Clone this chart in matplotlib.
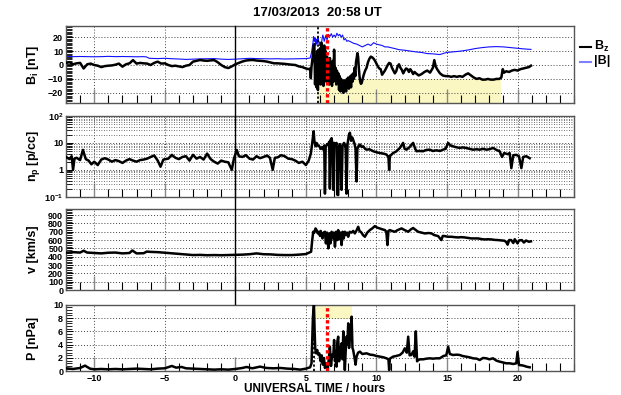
import matplotlib
matplotlib.use('Agg')
import matplotlib.pyplot as plt
import matplotlib.transforms as mtransforms
from matplotlib.lines import Line2D
from matplotlib.ticker import MultipleLocator, FixedLocator, FixedFormatter, LogLocator, NullFormatter

plt.rcParams['font.family'] = 'Liberation Sans'
plt.rcParams['font.weight'] = 'bold'
plt.rcParams['mathtext.fontset'] = 'custom'
plt.rcParams['mathtext.rm'] = 'Liberation Sans:bold'
plt.rcParams['mathtext.bf'] = 'Liberation Sans:bold'
plt.rcParams['mathtext.it'] = 'Liberation Sans:bold'

# --- IMF Bz [nT] (time in hours UT, value) ---
bz = [(-12.0, 1.5), (-11.75, 2.0), (-11.5, 0.5), (-11.25, 1.2), (-11.0, 1.5), (-10.75, -2.5),
      (-10.5, 0.5), (-10.25, 1.0), (-10.0, 0.0), (-9.75, -0.5), (-9.5, -1.5), (-9.25, -0.8),
      (-9.0, -0.5), (-8.75, -0.3), (-8.5, 0.2), (-8.25, 1.0), (-8.0, -1.2), (-7.75, 0.5),
      (-7.5, 1.2), (-7.25, 3.5), (-7.0, 1.0), (-6.75, 1.5), (-6.5, 1.2), (-6.25, 1.0),
      (-6.0, 0.0), (-5.75, 1.5), (-5.5, 2.4), (-5.25, 1.0), (-5.0, 1.2), (-4.75, 0.0),
      (-4.5, -0.8), (-4.25, -0.5), (-4.0, -1.0), (-3.75, -1.5), (-3.5, -0.5), (-3.25, 0.0),
      (-3.0, 2.4), (-2.75, 3.0), (-2.5, 3.6), (-2.25, 3.2), (-2.0, 3.0), (-1.75, 3.3),
      (-1.5, 3.5), (-1.25, 2.0), (-1.0, 0.0), (-0.75, -1.5), (-0.5, -2.2), (-0.25, -1.0),
      (0.0, 0.5), (0.25, 1.5), (0.5, 2.5), (0.75, 3.2), (1.0, 3.5), (1.25, 3.6), (1.5, 3.2),
      (1.75, 3.0), (2.0, 2.8), (2.25, 2.4), (2.5, 1.8), (2.75, 1.2), (3.0, 1.2), (3.25, 1.0),
      (3.5, 0.8), (3.75, 0.5), (4.0, 0.2), (4.25, 0.0), (4.5, -1.0), (4.75, -1.5), (5.0, -2.5),
      (5.2, -3.0), (5.3, -2.5), (5.35, -9.5), (5.4, -1.0), (5.45, 3.0), (5.5, 8.0), (5.55, 14.0),
      (5.6, 15.0), (5.65, -14.0), (5.7, 6.0), (5.75, -16.0), (5.8, 10.0), (5.85, -18.0),
      (5.9, 4.0), (5.95, -12.0), (6.0, 12.0), (6.05, -14.0), (6.1, 16.0), (6.15, -10.0),
      (6.2, 8.0), (6.25, -15.0), (6.3, 14.0), (6.35, -6.0), (6.4, 10.0), (6.45, -12.0),
      (6.5, 6.0), (6.55, -8.0), (6.6, 2.0), (6.65, -14.0), (6.7, 5.0), (6.75, -10.0),
      (6.8, 0.0), (6.85, -15.0), (6.9, 3.0), (6.95, -12.0), (7.0, 11.0), (7.05, -8.0),
      (7.1, -2.0), (7.15, -14.0), (7.2, -4.0), (7.25, -12.0), (7.3, -6.0), (7.35, -18.0),
      (7.4, -8.0), (7.45, -19.0), (7.5, -10.0), (7.55, -17.0), (7.6, -12.0), (7.65, -20.0),
      (7.7, -11.0), (7.75, -18.0), (7.8, -14.0), (7.85, -19.0), (7.9, -10.0), (7.95, -15.0),
      (8.0, -9.0), (8.05, -17.0), (8.1, -12.0), (8.15, -8.0), (8.2, -16.0), (8.25, -7.0),
      (8.3, -12.0), (8.35, -6.0), (8.4, -10.0), (8.45, -2.0), (8.5, -8.0), (8.55, 2.0),
      (8.6, 5.0), (8.65, 8.5), (8.7, 6.0), (8.75, -2.0), (8.8, -8.0), (8.85, -12.0),
      (8.9, -13.5), (8.95, -13.0), (9.0, -11.0), (9.1, -7.0), (9.2, -4.0), (9.3, -2.0),
      (9.4, 2.0), (9.5, 4.5), (9.6, 6.0), (9.7, 5.5), (9.8, 4.5), (9.9, 3.0), (10.0, 1.0),
      (10.1, -1.0), (10.2, -2.5), (10.3, -3.0), (10.4, -7.0), (10.5, -5.5), (10.6, -4.0),
      (10.7, -2.0), (10.8, 0.0), (10.9, 1.5), (11.0, 1.0), (11.1, -2.0), (11.2, -4.0),
      (11.3, -6.0), (11.4, -4.5), (11.5, -1.0), (11.6, 0.5), (11.7, -2.0), (11.8, -3.5),
      (11.9, -6.0), (12.0, -4.0), (12.1, -2.5), (12.2, -3.0), (12.3, -5.0), (12.4, -3.0),
      (12.5, -4.5), (12.6, -6.5), (12.7, -5.0), (12.8, -6.0), (13.0, -7.5), (13.2, -6.5),
      (13.4, -5.0), (13.6, -4.0), (13.8, -5.5), (14.0, -2.0), (14.1, 3.5), (14.2, -1.0),
      (14.3, -3.0), (14.5, -6.0), (14.7, -7.5), (14.9, -8.0), (15.1, -8.0), (15.3, -8.5),
      (15.5, -8.0), (15.7, -8.5), (15.9, -8.0), (16.1, -8.5), (16.3, -7.0), (16.5, -6.0),
      (16.7, -7.5), (16.9, -9.0), (17.1, -10.0), (17.3, -9.5), (17.5, -10.5), (17.7, -10.5),
      (17.9, -10.0), (18.1, -10.5), (18.3, -10.5), (18.5, -10.0), (18.7, -10.0), (18.85, -9.0),
      (18.95, -3.0), (19.05, -5.5), (19.2, -4.5), (19.4, -5.0), (19.6, -4.0), (19.8, -3.5),
      (20.0, -4.0), (20.2, -3.0), (20.4, -2.5), (20.6, -2.0), (20.8, -1.5), (20.95, -0.5)]

# --- |B| [nT] ---
btot = [(-12.0, 6.2), (-11.5, 6.0), (-11.0, 6.1), (-10.5, 6.0), (-10.0, 5.9), (-9.5, 6.0),
        (-9.0, 6.2), (-8.5, 6.0), (-8.0, 6.1), (-7.5, 6.0), (-7.0, 5.9), (-6.5, 6.0),
        (-6.3, 5.8), (-6.1, 4.8), (-5.5, 4.6), (-5.0, 4.8), (-4.5, 4.5), (-4.0, 4.3),
        (-3.5, 4.0), (-3.0, 4.2), (-2.5, 4.4), (-2.0, 4.5), (-1.5, 4.6), (-1.0, 4.2),
        (-0.5, 4.0), (0.0, 4.2), (0.5, 4.5), (1.0, 4.8), (1.5, 4.6), (2.0, 4.5), (2.5, 4.4),
        (3.0, 4.5), (3.5, 4.3), (4.0, 4.4), (4.5, 4.5), (5.0, 4.6), (5.3, 5.0), (5.4, 9.0),
        (5.5, 16.0), (5.55, 20.5), (5.6, 17.0), (5.65, 19.5), (5.7, 14.0), (5.75, 18.5),
        (5.8, 15.0), (5.85, 20.0), (5.9, 17.5), (5.95, 14.0), (6.0, 16.5), (6.05, 12.5),
        (6.1, 15.0), (6.15, 19.0), (6.2, 21.5), (6.25, 19.5), (6.3, 17.0), (6.4, 21.0),
        (6.5, 18.0), (6.6, 22.0), (6.7, 20.5), (6.8, 22.5), (6.9, 20.0), (7.0, 21.5),
        (7.1, 20.0), (7.2, 22.8), (7.3, 21.0), (7.4, 22.0), (7.5, 20.0), (7.6, 21.5),
        (7.7, 18.0), (7.8, 19.0), (7.9, 17.0), (8.0, 17.5), (8.2, 16.5), (8.4, 15.5),
        (8.6, 15.0), (8.8, 14.0), (9.0, 13.0), (9.2, 14.0), (9.4, 15.0), (9.6, 14.0),
        (9.8, 16.0), (10.0, 15.0), (10.2, 14.5), (10.4, 14.0), (10.6, 13.0), (10.8, 13.0),
        (11.0, 12.5), (11.3, 11.8), (11.6, 11.0), (12.0, 10.6), (12.4, 10.0), (12.8, 9.4),
        (13.2, 9.0), (13.6, 8.2), (14.0, 8.0), (14.5, 7.5), (14.8, 8.5), (15.0, 9.0),
        (15.5, 9.5), (16.0, 10.0), (16.5, 10.8), (17.0, 11.8), (17.5, 12.5), (18.0, 13.0),
        (18.5, 13.2), (19.0, 13.0), (19.5, 12.5), (20.0, 12.0), (20.5, 11.5), (20.95, 11.2)]

# --- proton density [p/cc] ---
np_dens = [(-12.0, 3.0), (-11.75, 2.5), (-11.6, 3.2), (-11.5, 1.0), (-11.4, 2.6), (-11.25, 2.8),
           (-11.0, 2.3), (-10.8, 5.5), (-10.6, 2.5), (-10.4, 2.2), (-10.2, 1.6), (-10.0, 2.0),
           (-9.75, 1.5), (-9.5, 2.4), (-9.25, 2.7), (-9.0, 2.4), (-8.75, 2.0), (-8.5, 2.3),
           (-8.25, 2.1), (-8.0, 1.8), (-7.75, 2.2), (-7.5, 2.5), (-7.25, 2.2), (-7.0, 2.0),
           (-6.75, 2.3), (-6.5, 2.4), (-6.25, 2.6), (-6.0, 3.0), (-5.75, 3.4), (-5.5, 2.2),
           (-5.3, 1.3), (-5.1, 2.4), (-4.75, 2.6), (-4.5, 3.6), (-4.25, 2.8), (-4.0, 2.5),
           (-3.75, 3.0), (-3.5, 3.2), (-3.25, 2.2), (-3.0, 3.6), (-2.75, 2.6), (-2.5, 3.0),
           (-2.25, 2.4), (-2.0, 4.0), (-1.75, 2.5), (-1.5, 2.0), (-1.25, 1.7), (-1.0, 2.2),
           (-0.75, 2.0), (-0.5, 1.9), (-0.25, 1.0), (-0.1, 2.6), (0.1, 5.5), (0.25, 3.2),
           (0.5, 3.0), (0.75, 3.5), (1.0, 2.6), (1.25, 2.4), (1.5, 3.2), (1.75, 2.7), (2.0, 3.0),
           (2.25, 3.4), (2.45, 2.8), (2.65, 1.0), (2.8, 2.8), (3.0, 2.9), (3.25, 3.5), (3.5, 3.2),
           (3.75, 2.6), (4.0, 2.5), (4.25, 2.2), (4.5, 1.8), (4.75, 2.0), (5.0, 1.5), (5.2, 2.2),
           (5.35, 4.0), (5.45, 10.0), (5.55, 27.0), (5.6, 12.0), (5.65, 9.0), (5.7, 7.5),
           (5.76, 10.0), (5.85, 8.0), (5.95, 7.5), (6.05, 6.0), (6.15, 7.0), (6.25, 5.5),
           (6.3, 8.0), (6.35, 0.13), (6.4, 7.0), (6.5, 9.0), (6.59, 8.5), (6.65, 11.0),
           (6.7, 0.2), (6.75, 13.0), (6.82, 15.0), (6.88, 9.0), (6.94, 0.18), (7.0, 10.0),
           (7.1, 8.0), (7.17, 10.0), (7.22, 0.12), (7.29, 0.115), (7.35, 7.5), (7.41, 9.0),
           (7.47, 5.0), (7.53, 0.18), (7.6, 8.0), (7.7, 10.0), (7.76, 9.0), (7.82, 6.0),
           (7.88, 0.13), (7.95, 9.0), (8.05, 20.0), (8.12, 24.0), (8.2, 12.0), (8.28, 16.0),
           (8.35, 13.0), (8.45, 9.0), (8.52, 6.0), (8.59, 0.37), (8.65, 6.0), (8.75, 8.0),
           (8.83, 8.7), (8.95, 7.0), (9.06, 7.5), (9.2, 6.0), (9.3, 5.6), (9.5, 5.8), (9.77, 4.9),
           (10.0, 4.5), (10.24, 4.2), (10.5, 4.0), (10.71, 3.7), (10.85, 3.0), (10.9, 1.0),
           (10.95, 3.2), (11.18, 4.2), (11.4, 4.8), (11.66, 6.5), (11.89, 10.0), (12.0, 6.0),
           (12.13, 5.6), (12.35, 7.0), (12.6, 10.0), (12.75, 6.0), (12.84, 4.9), (13.0, 5.0),
           (13.31, 4.9), (13.55, 5.5), (13.78, 5.6), (14.0, 5.0), (14.25, 5.3), (14.5, 5.0),
           (14.72, 5.6), (14.9, 6.0), (15.08, 10.0), (15.25, 8.0), (15.43, 7.5), (15.6, 7.0),
           (15.9, 6.5), (16.1, 6.8), (16.37, 6.5), (16.6, 6.0), (16.84, 5.6), (17.1, 5.8),
           (17.32, 5.6), (17.55, 6.0), (17.79, 5.6), (18.0, 5.8), (18.26, 6.5), (18.5, 5.5),
           (18.73, 4.9), (18.9, 3.0), (19.05, 4.2), (19.3, 3.8), (19.44, 4.2), (19.56, 1.15),
           (19.7, 3.5), (19.91, 3.6), (20.1, 3.2), (20.27, 1.15), (20.4, 3.0), (20.62, 3.2),
           (20.86, 2.7)]

# --- solar wind speed [km/s] ---
vsw = [(-12.0, 448), (-11.5, 455), (-11.0, 450), (-10.75, 472), (-10.5, 450), (-10.0, 445),
       (-9.5, 440), (-9.0, 448), (-8.5, 450), (-8.0, 440), (-7.5, 445), (-7.3, 475), (-7.0, 440),
       (-6.5, 442), (-6.27, 462), (-6.0, 458), (-5.5, 455), (-5.0, 448), (-4.5, 440),
       (-4.0, 435), (-3.5, 428), (-3.0, 420), (-2.5, 422), (-2.0, 418), (-1.5, 420),
       (-1.0, 418), (-0.5, 420), (0.0, 422), (0.5, 425), (1.0, 430), (1.5, 440), (2.0, 430),
       (2.5, 428), (3.0, 422), (3.5, 420), (4.0, 420), (4.5, 425), (5.0, 432), (5.37, 460),
       (5.45, 600), (5.52, 700), (5.6, 690), (5.68, 740), (5.76, 720), (5.84, 680), (5.92, 700),
       (6.0, 650), (6.05, 710), (6.11, 660), (6.18, 620), (6.25, 690), (6.35, 700), (6.42, 560),
       (6.5, 690), (6.59, 500), (6.66, 680), (6.74, 560), (6.82, 700), (6.9, 620), (6.98, 690),
       (7.06, 520), (7.14, 700), (7.22, 600), (7.29, 720), (7.37, 610), (7.45, 690), (7.53, 540),
       (7.6, 700), (7.68, 620), (7.76, 700), (7.85, 660), (7.92, 690), (8.0, 640), (8.1, 700),
       (8.24, 690), (8.35, 710), (8.47, 680), (8.6, 720), (8.71, 760), (8.8, 710), (8.94, 690),
       (9.05, 660), (9.18, 640), (9.35, 690), (9.53, 720), (9.7, 740), (9.89, 768), (10.05, 750),
       (10.24, 740), (10.4, 730), (10.6, 720), (10.7, 700), (10.78, 540), (10.85, 710),
       (10.95, 720), (11.1, 710), (11.3, 700), (11.5, 720), (11.78, 740), (12.0, 720),
       (12.25, 700), (12.45, 730), (12.6, 745), (12.8, 720), (12.95, 700), (13.2, 690),
       (13.43, 680), (13.7, 685), (13.9, 680), (14.1, 660), (14.37, 648), (14.6, 600),
       (14.7, 650), (14.84, 648), (15.05, 640), (15.3, 640), (15.55, 635), (15.78, 632),
       (16.0, 635), (16.25, 632), (16.5, 625), (16.72, 620), (17.0, 620), (17.2, 620),
       (17.45, 612), (17.67, 608), (17.9, 610), (18.14, 608), (18.4, 602), (18.61, 600),
       (18.85, 596), (19.08, 592), (19.2, 575), (19.3, 545), (19.4, 600), (19.55, 600),
       (19.7, 565), (19.8, 610), (20.0, 560), (20.1, 595), (20.3, 600), (20.45, 570),
       (20.6, 595), (20.8, 580), (20.95, 585)]

# --- dynamic pressure [nPa] ---
pdyn = [(-12.0, 0.45), (-11.5, 0.35), (-11.0, 0.5), (-10.65, 0.85), (-10.3, 0.4), (-10.0, 0.3),
        (-9.5, 0.35), (-9.0, 0.3), (-8.5, 0.35), (-8.0, 0.3), (-7.5, 0.35), (-7.0, 0.4),
        (-6.5, 0.35), (-6.0, 0.3), (-5.5, 0.4), (-5.0, 0.45), (-4.5, 0.8), (-4.2, 0.55),
        (-3.8, 0.65), (-3.5, 0.45), (-3.0, 0.4), (-2.5, 0.35), (-2.0, 0.3), (-1.5, 0.25),
        (-1.0, 0.3), (-0.5, 0.25), (0.0, 0.35), (0.5, 0.5), (0.8, 0.65), (1.2, 0.45),
        (1.75, 0.7), (2.2, 0.5), (2.7, 0.45), (3.2, 0.5), (3.7, 0.4), (4.2, 0.35), (4.6, 0.25),
        (5.0, 0.4), (5.3, 0.6), (5.4, 1.2), (5.5, 8.2), (5.57, 10.0), (5.62, 6.0), (5.66, 3.5),
        (5.72, 2.7), (5.8, 3.2), (5.87, 2.5), (5.95, 2.7), (6.05, 1.5), (6.12, 2.4), (6.2, 1.0),
        (6.28, 2.0), (6.35, 0.5), (6.45, 1.2), (6.55, 0.3), (6.62, 1.8), (6.7, 3.7), (6.78, 0.8),
        (6.86, 2.5), (6.94, 2.2), (7.0, 4.7), (7.06, 1.5), (7.12, 3.0), (7.17, 0.7), (7.23, 4.5),
        (7.29, 5.2), (7.35, 1.5), (7.41, 2.2), (7.47, 3.5), (7.53, 4.2), (7.6, 1.8), (7.65, 6.0),
        (7.7, 3.5), (7.76, 0.2), (7.82, 3.0), (7.88, 5.2), (7.94, 4.0), (8.0, 7.2), (8.06, 3.5),
        (8.12, 5.2), (8.18, 6.0), (8.24, 8.2), (8.3, 3.5), (8.35, 3.2), (8.45, 2.0), (8.52, 1.0),
        (8.59, 2.2), (8.7, 2.8), (8.83, 2.95), (9.0, 2.6), (9.3, 2.7), (9.55, 2.5), (9.77, 2.45),
        (10.0, 2.3), (10.24, 2.2), (10.5, 2.1), (10.71, 1.95), (10.85, 1.8), (10.9, 0.2),
        (10.95, 1.9), (11.18, 2.2), (11.4, 2.3), (11.66, 2.45), (11.85, 2.8), (12.01, 3.45),
        (12.15, 2.8), (12.25, 5.2), (12.35, 2.4), (12.48, 2.45), (12.6, 3.0), (12.7, 2.2),
        (12.79, 6.0), (12.88, 1.5), (12.96, 1.7), (13.1, 1.8), (13.31, 1.8), (13.55, 1.9),
        (13.78, 1.95), (14.0, 1.9), (14.25, 1.95), (14.49, 1.95), (14.75, 2.3), (14.95, 2.4),
        (15.08, 3.7), (15.2, 2.6), (15.43, 2.45), (15.7, 2.5), (15.9, 2.45), (16.1, 2.3),
        (16.37, 2.2), (16.6, 2.1), (16.84, 1.95), (17.1, 1.9), (17.32, 1.7), (17.55, 2.0),
        (17.79, 1.95), (18.0, 1.8), (18.26, 1.95), (18.5, 1.6), (18.73, 1.45), (19.0, 1.3),
        (19.2, 1.2), (19.44, 1.2), (19.7, 1.1), (19.91, 1.2), (20.0, 2.9), (20.1, 0.95),
        (20.3, 0.9), (20.5, 0.8), (20.62, 0.7), (20.86, 0.6)]

# event markers and highlighted intervals (hours UT)
shock_b, shock_p = 5.85, 5.6
arrival = 6.5
bz_band = (5.85, 18.8, -10.0)      # start, end, upper edge
p_band = (5.64, 8.24, 7.8)         # start, end, lower edge

W, H = 621, 395
fig = plt.figure(figsize=(W / 100, H / 100), dpi=100)

left, right = 66, 574
panels_px = [(26, 103.3), (116, 196.7), (209.3, 290), (304.7, 371.3)]
axes = []
for top, bot in panels_px:
    ax = fig.add_axes([left / W, 1 - bot / H, (right - left) / W, (bot - top) / H])
    axes.append(ax)
ax1, ax2, ax3, ax4 = axes

grid_kw = dict(color='#444444', linestyle=(0, (1, 2)), linewidth=0.7, zorder=0)
line_kw = dict(color='black', linewidth=1.8, zorder=3)
yellow = '#fbf7c2'

for ax in axes:
    ax.set_xlim(-12, 24)
    ax.xaxis.set_major_locator(MultipleLocator(5))
    ax.xaxis.set_minor_locator(MultipleLocator(1))
    ax.tick_params(axis='x', which='major', direction='in', length=10, width=1.0,
                   color='#888888', top=False, labelsize=6.5, pad=2)
    ax.tick_params(axis='x', which='minor', direction='in', length=5.5, width=0.8,
                   color='black', top=False)
    ax.tick_params(axis='y', which='major', direction='in', length=5, width=0.7,
                   right=False, labelsize=6.5, pad=2)
    ax.tick_params(axis='y', which='minor', direction='in', length=4, width=0.6, right=False)
    for sp in ax.spines.values():
        sp.set_color('#555555')
        sp.set_linewidth(1.0)
    for g in (-10, -5, 5, 10, 15, 20):
        ax.axvline(g, **grid_kw)
    ax.grid(axis='y', which='major', **{k: v for k, v in grid_kw.items() if k != 'zorder'})
    if ax is not ax4:
        ax.tick_params(axis='x', labelbottom=False)

# panel 1: magnetic field
t, v = zip(*bz)
tb, vb = zip(*btot)
ax1.set_ylim(-27.5, 28)
ax1.yaxis.set_major_locator(MultipleLocator(10))
ax1.yaxis.set_minor_locator(MultipleLocator(1))
ax1.fill_between([bz_band[0], bz_band[1]], -27.5, bz_band[2], color=yellow, lw=0, zorder=1)
ax1.plot(tb, vb, color='#1010ff', linewidth=0.8, zorder=2)
ax1.plot(t, v, **line_kw)
ax1.axvline(shock_b, color='black', linestyle=(0, (1.2, 1.2)), linewidth=1.3, zorder=4)
ax1.axvline(arrival, color='red', linestyle=(0, (1, 0.8)), linewidth=2.4, zorder=4)

# panel 2: density (log)
t, v = zip(*np_dens)
ax2.set_yscale('log')
ax2.set_ylim(0.1, 100)
ax2.yaxis.set_major_locator(FixedLocator([0.1, 1, 10, 100]))
ax2.yaxis.set_major_formatter(FixedFormatter(['10$^{-1}$', '1', '10', '10$^{2}$']))
ax2.yaxis.set_minor_locator(LogLocator(base=10, subs=range(2, 10), numticks=20))
ax2.yaxis.set_minor_formatter(NullFormatter())
ax2.grid(axis='y', which='minor', color='#444444', linestyle=(0, (1, 2)), linewidth=0.6)
ax2.plot(t, v, **line_kw)

# panel 3: speed
t, v = zip(*vsw)
ax3.set_ylim(0, 970)
ax3.yaxis.set_major_locator(MultipleLocator(100))
ax3.yaxis.set_minor_locator(MultipleLocator(20))
ax3.plot(t, v, **line_kw)

# panel 4: pressure
t, v = zip(*pdyn)
ax4.set_ylim(0, 10)
ax4.yaxis.set_major_locator(MultipleLocator(2))
ax4.yaxis.set_minor_locator(MultipleLocator(0.4))
ax4.fill_between([p_band[0], p_band[1]], p_band[2], 10, color=yellow, lw=0, zorder=1)
ax4.plot(t, v, **line_kw)
ax4.axvline(shock_p, color='black', linestyle=(0, (1.2, 1.2)), linewidth=1.3, zorder=4)
ax4.axvline(arrival, color='red', linestyle=(0, (1, 0.8)), linewidth=2.4, zorder=4)

# solid marker at t = 0 running down through the panels
trans = mtransforms.blended_transform_factory(ax1.transData, fig.transFigure)
fig.add_artist(Line2D([0, 0], [1 - 26 / H, 1 - 304 / H], transform=trans,
                      color='black', linewidth=1.0, zorder=5))

# labels
ylabels = [r'B$_\mathbf{i}$ [nT]', r'n$_\mathbf{p}$ [p/cc]', 'v [km/s]', 'P [nPa]']
for ax, lab in zip(axes, ylabels):
    pos = ax.get_position()
    fig.text(33 / W, pos.y0 + pos.height / 2, lab, rotation=90, ha='center', va='center',
             fontsize=9, fontweight='bold')

fig.text(317 / W, 1 - 13 / H, '17/03/2013  20:58 UT', ha='center', va='center',
         fontsize=9.5, fontweight='bold')
fig.text(385 / W, 1 - 389 / H, 'UNIVERSAL TIME / hours', ha='right', va='center',
         fontsize=8.5, fontweight='bold')

# legend
fig.add_artist(Line2D([580 / W, 591 / W], [1 - 47 / H, 1 - 47 / H], color='black', linewidth=1.5))
fig.add_artist(Line2D([580 / W, 591 / W], [1 - 62 / H, 1 - 62 / H], color='#8080ff', linewidth=1.5))
fig.text(594 / W, 1 - 46 / H, r'B$_\mathbf{z}$', ha='left', va='center', fontsize=9, fontweight='bold')
fig.text(594 / W, 1 - 61 / H, '|B|', ha='left', va='center', fontsize=9, fontweight='bold')

fig.savefig('out.png', dpi=100)
